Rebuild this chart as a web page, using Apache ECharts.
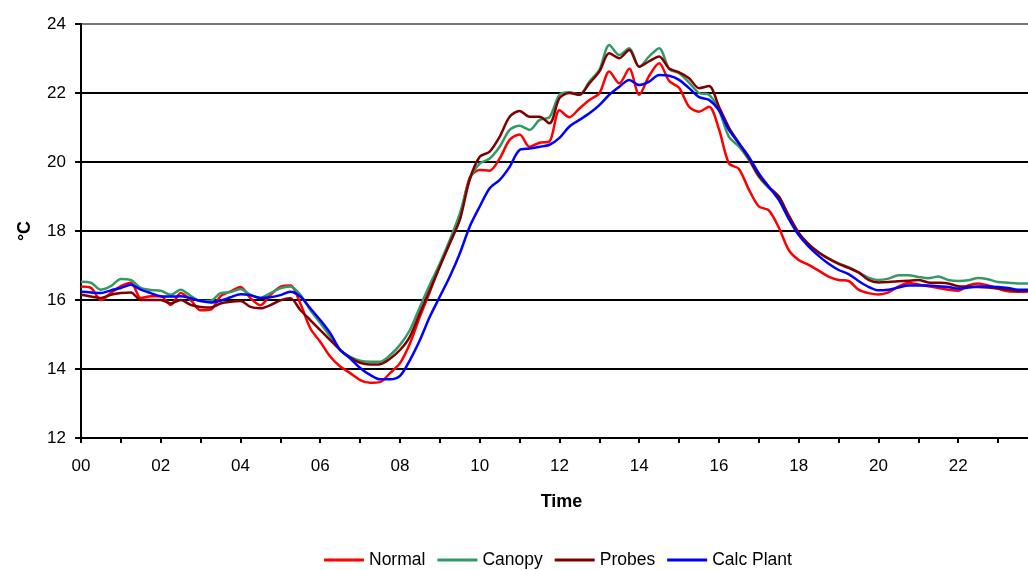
<!DOCTYPE html>
<html>
<head>
<meta charset="utf-8">
<script src="https://cdn.jsdelivr.net/npm/echarts@6/dist/echarts.min.js"></script>
<style>
  html, body { margin: 0; padding: 0; background: #fff; }
  #chart { width: 1028px; height: 570px; }
</style>
</head>
<body>
<div id="chart"></div>
<script>
// Quarter-hour readings over one day (00:00 .. 23:45), temperatures in °C
const times = [];
for (let h = 0; h < 24; h++) {
  for (const m of ['00', '15', '30', '45']) times.push(String(h).padStart(2, '0') + ':' + m);
}

const normal = [
  16.39, 16.35, 16.00, 16.20, 16.40, 16.50, 16.06, 16.11,
  16.11, 15.86, 16.20, 16.00, 15.70, 15.72, 16.11, 16.25,
  16.38, 16.05, 15.85, 16.15, 16.38, 16.42, 15.90, 15.18,
  14.79, 14.36, 14.07, 13.88, 13.68, 13.60, 13.62, 13.88,
  14.17, 14.74, 15.52, 16.24, 17.00, 17.65, 18.37, 19.55,
  19.77, 19.75, 20.10, 20.64, 20.80, 20.44, 20.56, 20.60,
  21.50, 21.30, 21.55, 21.80, 21.99, 22.62, 22.28, 22.70,
  21.95, 22.50, 22.86, 22.35, 22.15, 21.60, 21.46, 21.60,
  20.95, 19.96, 19.80, 19.20, 18.71, 18.60, 18.10, 17.45,
  17.16, 17.02, 16.85, 16.68, 16.58, 16.55, 16.30, 16.20,
  16.16, 16.22, 16.39, 16.49, 16.45, 16.40, 16.35, 16.30,
  16.27, 16.42, 16.48, 16.42, 16.33, 16.25, 16.24, 16.25
];

const canopy = [
  16.53, 16.50, 16.30, 16.40, 16.61, 16.58, 16.35, 16.29,
  16.27, 16.15, 16.30, 16.12, 15.97, 15.98, 16.20, 16.23,
  16.32, 16.15, 16.06, 16.20, 16.34, 16.39, 16.15, 15.71,
  15.33, 14.94, 14.55, 14.35, 14.24, 14.21, 14.21, 14.40,
  14.70, 15.13, 15.80, 16.45, 17.06, 17.74, 18.50, 19.50,
  19.95, 20.10, 20.44, 20.93, 21.05, 20.93, 21.22, 21.30,
  21.95, 22.02, 21.95, 22.33, 22.67, 23.39, 23.10, 23.30,
  22.76, 23.06, 23.30, 22.70, 22.57, 22.30, 22.00, 21.95,
  21.50, 20.73, 20.45, 20.06, 19.57, 19.24, 19.00, 18.42,
  17.93, 17.60, 17.38, 17.20, 17.06, 16.95, 16.80, 16.65,
  16.58, 16.62, 16.72, 16.72, 16.67, 16.63, 16.68, 16.58,
  16.55, 16.57, 16.64, 16.60, 16.52, 16.50, 16.48, 16.48
];

const probes = [
  16.15, 16.10, 16.06, 16.15, 16.20, 16.22, 16.00, 16.00,
  16.00, 15.90, 16.00, 15.86, 15.80, 15.78, 15.90, 15.95,
  15.97, 15.80, 15.76, 15.85, 15.99, 16.05, 15.71, 15.42,
  15.13, 14.84, 14.55, 14.33, 14.18, 14.13, 14.14, 14.30,
  14.55, 14.94, 15.62, 16.29, 16.97, 17.65, 18.32, 19.50,
  20.15, 20.30, 20.73, 21.31, 21.48, 21.31, 21.31, 21.12,
  21.85, 22.00, 21.95, 22.28, 22.62, 23.15, 23.01, 23.25,
  22.76, 22.92, 23.06, 22.71, 22.60, 22.43, 22.14, 22.20,
  21.60, 21.00, 20.55, 20.10, 19.60, 19.28, 19.00, 18.45,
  17.95, 17.62, 17.38, 17.20, 17.05, 16.93, 16.80, 16.58,
  16.51, 16.52, 16.54, 16.56, 16.58, 16.51, 16.50, 16.48,
  16.40, 16.39, 16.38, 16.36, 16.33, 16.30, 16.26, 16.27
];

const calcPlant = [
  16.24, 16.22, 16.20, 16.28, 16.35, 16.44, 16.30, 16.20,
  16.11, 16.10, 16.11, 16.05, 15.97, 15.93, 15.98, 16.08,
  16.17, 16.14, 16.06, 16.08, 16.14, 16.24, 16.10, 15.76,
  15.42, 15.04, 14.55, 14.31, 14.03, 13.83, 13.70, 13.70,
  13.80, 14.26, 14.84, 15.52, 16.10, 16.68, 17.35, 18.13,
  18.71, 19.24, 19.48, 19.86, 20.35, 20.39, 20.44, 20.50,
  20.70, 21.03, 21.22, 21.41, 21.65, 21.95, 22.18, 22.38,
  22.23, 22.33, 22.52, 22.50, 22.38, 22.14, 21.88, 21.80,
  21.50, 20.93, 20.54, 20.15, 19.67, 19.28, 18.90, 18.35,
  17.88, 17.55, 17.28, 17.05, 16.87, 16.75, 16.55, 16.38,
  16.28, 16.30, 16.36, 16.42, 16.42, 16.42, 16.40, 16.38,
  16.33, 16.36, 16.39, 16.39, 16.38, 16.35, 16.30, 16.30
];

const seriesDefs = [
  { name: 'Normal', data: normal, color: '#ff0000' },
  { name: 'Canopy', data: canopy, color: '#339966' },
  { name: 'Probes', data: probes, color: '#800000' },
  { name: 'Calc Plant', data: calcPlant, color: '#0000ff' }
];

const FONT = '"Liberation Sans", Arial, sans-serif';

const chart = echarts.init(document.getElementById('chart'), null, { renderer: 'canvas' });
chart.setOption({
  animation: false,
  backgroundColor: '#ffffff',
  textStyle: { fontFamily: FONT, color: '#000' },
  grid: { left: 81, right: 0, top: 24, bottom: 132, containLabel: false },
  xAxis: {
    type: 'category',
    data: times,
    boundaryGap: false,
    name: 'Time',
    nameLocation: 'middle',
    nameGap: 55,
    nameTextStyle: { fontFamily: FONT, fontSize: 18, fontWeight: 'bold', color: '#000', padding: [0, 0, 0, 14] },
    axisLine: { lineStyle: { color: '#000', width: 2 } },
    axisTick: { show: true, interval: 3, length: 5, lineStyle: { color: '#000', width: 2 } },
    axisLabel: {
      interval: 7,
      margin: 20,
      fontFamily: FONT, fontSize: 17, color: '#000',
      formatter: v => v.slice(0, 2)
    },
    splitLine: { show: false }
  },
  yAxis: {
    type: 'value',
    min: 12, max: 24, interval: 2,
    name: '°C',
    nameLocation: 'middle',
    nameGap: 47,
    nameRotate: 90,
    nameTextStyle: { fontFamily: FONT, fontSize: 18, fontWeight: 'bold', color: '#000' },
    axisLine: { show: true, lineStyle: { color: '#000', width: 2 } },
    axisTick: { show: true, length: 6, lineStyle: { color: '#000', width: 2 } },
    axisLabel: { margin: 15, fontFamily: FONT, fontSize: 17, color: '#000' },
    splitLine: { show: true, lineStyle: { color: ['#000', '#000', '#000', '#000', '#000', '#000', '#777'], width: 2 } }
  },
  legend: {
    top: 551,
    left: 324,
    icon: 'rect',
    itemWidth: 40,
    itemHeight: 3,
    itemGap: 12,
    padding: 0,
    textStyle: { fontFamily: FONT, fontSize: 17.5, color: '#000' },
    data: seriesDefs.map(s => s.name)
  },
  series: seriesDefs.map(s => ({
    name: s.name,
    type: 'line',
    data: s.data,
    smooth: 0.3,
    showSymbol: false,
    symbol: 'none',
    lineStyle: { color: s.color, width: 2.5 },
    itemStyle: { color: s.color }
  }))
});
</script>
</body>
</html>
